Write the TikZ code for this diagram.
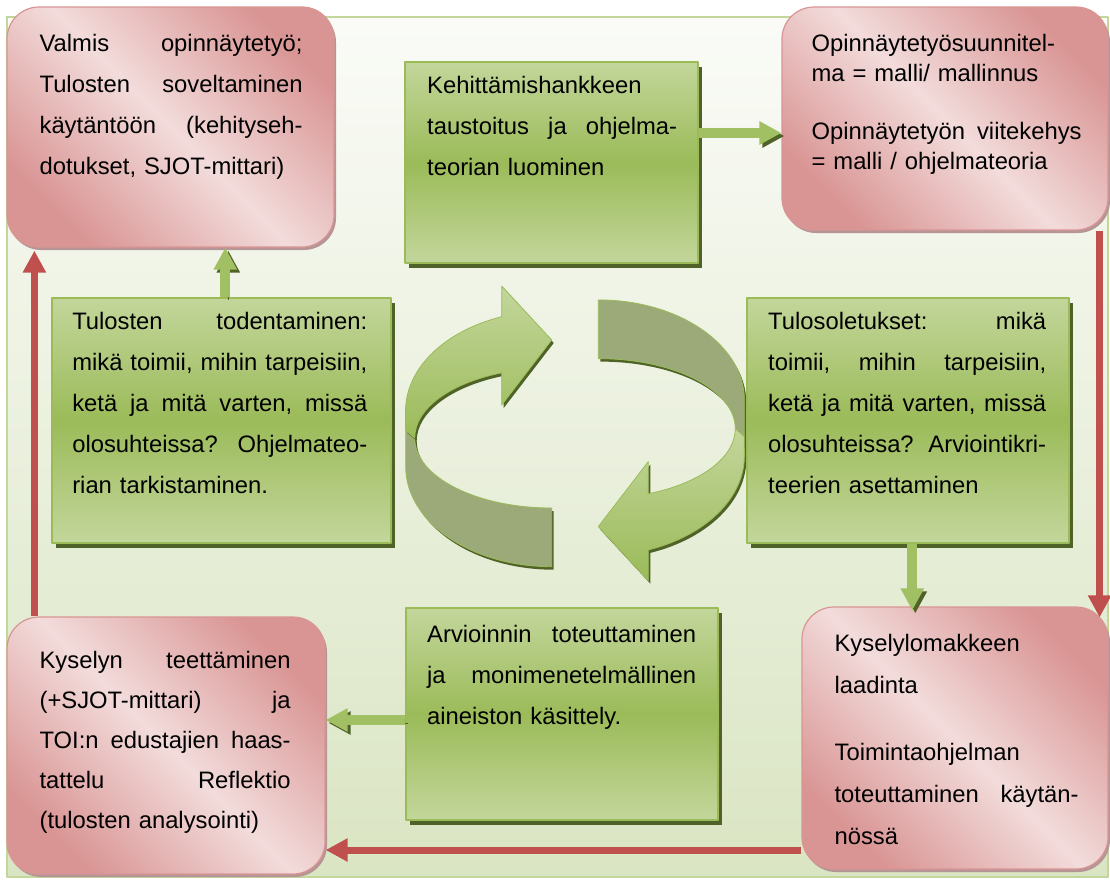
\documentclass[tikz,border=0pt]{standalone}
\usepackage{fontspec}
\setmainfont{Liberation Sans}
\usepackage{tikz}
\usetikzlibrary{arrows.meta,calc,shadows}
\definecolor{cyRose}{HTML}{D99594}
\definecolor{cyBlush}{HTML}{F2DCDB}
\definecolor{cyRoseShade}{HTML}{B59595}
\definecolor{cyGreen}{HTML}{9BBB59}
\definecolor{cyLime}{HTML}{C3D69B}
\definecolor{cyOlive}{HTML}{4F6228}
\definecolor{cyRed}{HTML}{C0504D}
\definecolor{cySage}{HTML}{9CAA7A}
\definecolor{cyBgTop}{HTML}{FAFBF7}
\definecolor{cyBgBot}{HTML}{DAE5C3}
\tikzset{
  cy diagram/.style={x=1pt,y=-1pt,line join=round},
  cy red box/.style={draw=cyRose, line width=1.2pt, rounded corners=32pt,
    top color=cyRose, bottom color=cyRose, middle color=cyBlush, shading angle=-45,
    drop shadow={shadow xshift=2pt, shadow yshift=-3pt, fill=cyRoseShade, opacity=1}},
  cy green box/.style={draw=cyGreen, line width=2pt,
    top color=cyLime, bottom color=cyLime, middle color=cyGreen,
    drop shadow={shadow xshift=4pt, shadow yshift=-5pt, fill=cyOlive, opacity=1}},
  cy text/.style={anchor=base west, inner sep=0pt, align=left,
    font=\fontsize{23.8}{41}\selectfont},
  cy red arrow/.style={draw=cyRed, line width=7pt, -{Triangle[width=22pt,length=22pt]}},
  cy green arrow/.style={draw=cyGreen!85!cyLime, line width=10pt,
    -{Triangle[width=22pt,length=22pt]},
    preaction={draw=cyOlive, transform canvas={shift={(3,3)}}}},
  cy front/.style={draw=cyGreen, line width=0.8pt, top color=cyLime, bottom color=cyGreen,
    preaction={fill=cyOlive, transform canvas={shift={(2,3)}}}},
  cy back/.style={draw=cyGreen, line width=0.8pt, fill=cySage,
    preaction={fill=cyOlive, transform canvas={shift={(2,3)}}}}
}
\begin{document}
\begin{tikzpicture}[cy diagram]
\useasboundingbox (0,0) rectangle (1110,879);
% background and frame
\shade[top color=cyBgTop, bottom color=cyBgBot] (7,17) rectangle (1108,877);
\draw[cyLime, line width=1.5pt] (7,17) rectangle (1108,877);

% the cycle in the middle
\foreach \turn in {0,180}{
  \begin{scope}[rotate around={\turn:(575,433.3)}]
  \path[cy back] (405.7,430) -- (405.7,466.7)
    arc[start angle=180, end angle=90, x radius=146, y radius=100]
    -- (551.7,508) arc[start angle=90, end angle=180, x radius=137, y radius=70] -- cycle;
  \path[cy front] (501.7,376) -- (501.7,405) -- (551.7,340) -- (501.7,286) -- (501.7,316.7)
    arc[start angle=-110, end angle=-180, x radius=146, y radius=100]
    -- (405.7,430) -- (414.7,438)
    arc[start angle=180, end angle=248.6, x radius=137, y radius=70] -- cycle;
  \end{scope}
}

% boxes
\node[cy red box, minimum width=327pt, minimum height=240pt] (done) at (170.5,127) {};
\node[cy green box, minimum width=293pt, minimum height=201pt] (hanke) at (551.5,162.5) {};
\node[cy red box, minimum width=326pt, minimum height=223pt] (plan) at (945,118.5) {};
\node[cy green box, minimum width=339pt, minimum height=245pt] (verify) at (221.3,420.2) {};
\node[cy green box, minimum width=322pt, minimum height=245pt] (assume) at (908.3,420.2) {};
\node[cy red box, minimum width=318pt, minimum height=257pt] (reflect) at (166,745.5) {};
\node[cy green box, minimum width=312pt, minimum height=212pt] (evaluate) at (562,714) {};
\node[cy red box, minimum width=306pt, minimum height=262pt] (survey) at (955,738) {};

% texts
\node[cy text, text width=263pt] (done-t) at ([shift={(33,45)}]done.north west)
  {Valmis\hfill opinnäytetyö;\\ Tulosten\hfill soveltaminen\\
   käytäntöön\hfill (kehityseh-\\ dotukset, SJOT-mittari)};
\node[cy text, text width=250pt] (hanke-t) at ([shift={(23,32)}]hanke.north west)
  {Kehittämishankkeen\\ taustoitus\hfill ja\hfill ohjelma-\\ teorian luominen};
\node[cy text, text width=270pt, font=\fontsize{23.8}{30}\selectfont] (plan-t)
  at ([shift={(30,45)}]plan.north west)
  {Opinnäytetyösuunnitel-\\ ma = malli/ mallinnus\\[28pt]
   Opinnäytetyön\hfill viitekehys\\ = malli / ohjelmateoria};
\node[cy text, text width=295pt] (verify-t) at ([shift={(21.3,32.3)}]verify.north west)
  {Tulosten\hfill todentaminen:\\ mikä\hfill toimii,\hfill mihin\hfill tarpeisiin,\\
   ketä\hfill ja\hfill mitä\hfill varten,\hfill missä\\
   olosuhteissa?\hfill Ohjelmateo-\\ rian tarkistaminen.};
\node[cy text, text width=278pt] (assume-t) at ([shift={(21.7,32.3)}]assume.north west)
  {Tulosoletukset:\hfill mikä\\ toimii,\hfill mihin\hfill tarpeisiin,\\
   ketä\hfill ja\hfill mitä\hfill varten,\hfill missä\\
   olosuhteissa?\hfill Arviointikri-\\ teerien asettaminen};
\node[cy text, text width=251pt, font=\fontsize{23.8}{40}\selectfont] (reflect-t)
  at ([shift={(33,52)}]reflect.north west)
  {Kyselyn\hfill teettäminen\\ (+SJOT-mittari)\hfill ja\\
   TOI:n\hfill edustajien\hfill haas-\\ tattelu\hfill Reflektio\\ (tulosten analysointi)};
\node[cy text, text width=269pt] (evaluate-t) at ([shift={(22,35)}]evaluate.north west)
  {Arvioinnin\hfill toteuttaminen\\ ja\hfill monimenetelmällinen\\ aineiston käsittely.};
\node[cy text, text width=244pt, font=\fontsize{23.8}{42}\selectfont] (survey-t)
  at ([shift={(33,45)}]survey.north west)
  {Kyselylomakkeen\\ laadinta\\[25pt] Toimintaohjelman\\
   toteuttaminen\hfill käytän-\\ nössä};

% connectors
\coordinate (g1) at ([shift={(0,-29.5)}]hanke.east);
\coordinate (g2) at ([shift={(4,0)}]verify.north);
\coordinate (g3) at ([shift={(4,0)}]assume.south);
\coordinate (g4) at ([shift={(0,6)}]evaluate.west);
\draw[cy green arrow] (g1) -- (g1 -| plan.west);
\draw[cy green arrow] (g2) -- (g2 |- done.south);
\draw[cy green arrow] (g3) -- ($(g3 |- survey.north)+(0,4)$);
\draw[cy green arrow] (g4) -- (g4 -| reflect.east);

\coordinate (r1) at ([shift={(-9,0)}]plan.south east);
\coordinate (r2) at ([shift={(0,112)}]survey.west);
\coordinate (r3) at ([shift={(28,0)}]reflect.north west);
\draw[cy red arrow] (r1) -- ($(r1 |- survey.north)+(0,11)$);
\draw[cy red arrow] (r2) -- (r2 -| reflect.east);
\draw[cy red arrow] (r3) -- ($(r3 |- done.south)+(0,3)$);
\end{tikzpicture}
\end{document}
